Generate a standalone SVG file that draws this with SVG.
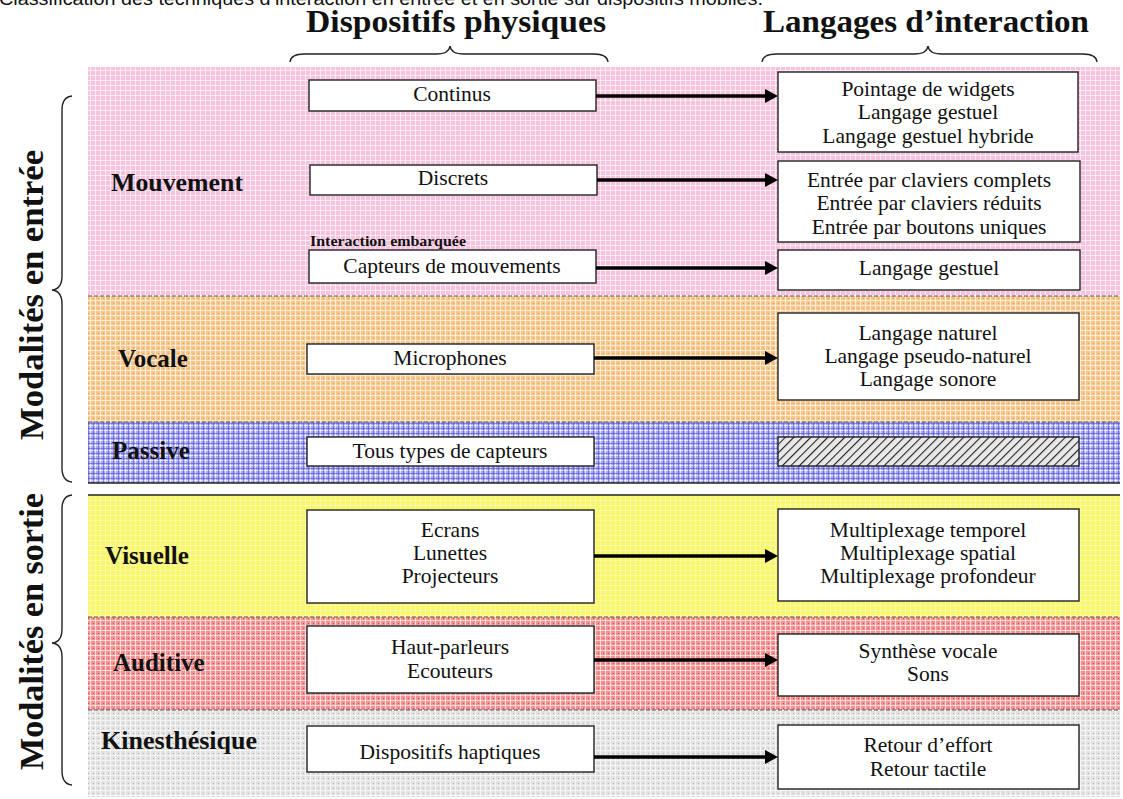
<svg xmlns="http://www.w3.org/2000/svg" width="1123" height="799" viewBox="0 0 1123 799">
<style>
.cap{font-family:"Liberation Sans",Arial,sans-serif;font-size:18px;fill:#111}
.hdr{font-family:"Liberation Serif","Times New Roman",serif;font-weight:bold;font-size:32px;fill:#111}
.side{font-family:"Liberation Serif","Times New Roman",serif;font-weight:bold;font-size:33px;fill:#111}
.row{font-family:"Liberation Serif","Times New Roman",serif;font-weight:bold;font-size:25px;fill:#111}
.sub{font-family:"Liberation Serif","Times New Roman",serif;font-weight:bold;font-size:15.5px;fill:#111}
.txt{font-family:"Liberation Serif","Times New Roman",serif;font-size:21.5px;fill:#111;text-anchor:middle}
.box{fill:#fff;stroke:#222;stroke-width:1.4}
.brace{fill:none;stroke:#222;stroke-width:1.4}
.dash{stroke:#555;stroke-width:1.2;stroke-dasharray:4 2}
.solid{stroke:#222;stroke-width:1.6}
.conn{stroke:#000;stroke-width:3.4;fill:none}
</style>
<defs>
<pattern id="pPink" width="5" height="5" patternUnits="userSpaceOnUse"><rect width="5" height="5" fill="#f6c2de"/><path d="M0,0.5H5M0.5,0V5" stroke="#fff" stroke-opacity="0.65" stroke-width="1"/></pattern>
<pattern id="pOrange" width="5" height="5" patternUnits="userSpaceOnUse"><rect width="5" height="5" fill="#f6c78c"/><path d="M0,0.5H5M0.5,0V5" stroke="#fff" stroke-opacity="0.6" stroke-width="1"/><rect x="3" y="3" width="1" height="1" fill="#e8a040"/></pattern>
<pattern id="pBlue" width="5" height="5" patternUnits="userSpaceOnUse"><rect width="5" height="5" fill="#a9a9ef"/><path d="M0,0.5H5M0.5,0V5" stroke="#fff" stroke-opacity="0.65" stroke-width="1"/><path d="M0,3.5H5M3.5,0V5" stroke="#4a4ad0" stroke-opacity="0.55" stroke-width="1"/></pattern>
<pattern id="pYellow" width="5" height="5" patternUnits="userSpaceOnUse"><rect width="5" height="5" fill="#f8f66a"/><path d="M0,0.5H5M0.5,0V5" stroke="#fff" stroke-opacity="0.35" stroke-width="1"/></pattern>
<pattern id="pRed" width="5" height="5" patternUnits="userSpaceOnUse"><rect width="5" height="5" fill="#f09494"/><path d="M0,0.5H5M0.5,0V5" stroke="#fff" stroke-opacity="0.6" stroke-width="1"/><rect x="3" y="3" width="1" height="1" fill="#e04848"/></pattern>
<pattern id="pGray" width="5" height="5" patternUnits="userSpaceOnUse"><rect width="5" height="5" fill="#e2e2e2"/><path d="M0,0.5H5M0.5,0V5" stroke="#fff" stroke-opacity="0.6" stroke-width="1"/><rect x="3" y="3" width="1" height="1" fill="#b8b8b8"/></pattern>
<pattern id="hatch" width="6" height="6" patternUnits="userSpaceOnUse" patternTransform="rotate(45)"><rect width="6" height="6" fill="#e8e8e8"/><path d="M0,0V6" stroke="#222" stroke-width="2.2"/></pattern>
<marker id="ah" markerWidth="13" markerHeight="14" refX="2" refY="7" orient="auto" markerUnits="userSpaceOnUse"><path d="M0,0 L13,7 L0,14 z" fill="#000"/></marker>
</defs>

<text class="cap" x="-1" y="5" textLength="764" lengthAdjust="spacingAndGlyphs">Classification des techniques d’interaction en entrée et en sortie sur dispositifs mobiles.</text>

<g id="bands">
<rect x="88" y="67" width="1032" height="229" fill="url(#pPink)"/>
<rect x="88" y="296" width="1032" height="126" fill="url(#pOrange)"/>
<rect x="88" y="422" width="1032" height="61" fill="url(#pBlue)"/>
<rect x="88" y="495" width="1032" height="122" fill="url(#pYellow)"/>
<rect x="88" y="617" width="1032" height="93" fill="url(#pRed)"/>
<rect x="88" y="710" width="1032" height="87" fill="url(#pGray)"/>
<line class="dash" x1="88" y1="296" x2="1120" y2="296"/>
<line class="dash" x1="88" y1="422" x2="1120" y2="422"/>
<line class="solid" x1="88" y1="483" x2="1120" y2="483"/>
<line class="solid" x1="88" y1="495" x2="1120" y2="495"/>
<line class="dash" x1="88" y1="617" x2="1120" y2="617"/>
<line class="dash" x1="88" y1="710" x2="1120" y2="710"/>
</g>

<g id="headers">
<text class="hdr" x="306" y="32" textLength="300" lengthAdjust="spacingAndGlyphs">Dispositifs physiques</text>
<text class="hdr" x="763" y="32" textLength="326" lengthAdjust="spacingAndGlyphs">Langages d’interaction</text>
<path class="brace" d="M290,62 Q291,54 304,54 L436,54 Q449,54 450,46 Q451,54 464,54 L594,54 Q607,54 608,62"/>
<path class="brace" d="M762,62 Q763,54 776,54 L914,54 Q927,54 928,46 Q929,54 942,54 L1083,54 Q1096,54 1097,62"/>
</g>

<g id="side-entree">
<path class="brace" d="M72,96 Q62,97 62,110 L62,276 Q62,289 52,290 Q62,291 62,304 L62,468 Q62,481 72,482"/>
<text class="side" transform="translate(43,440) rotate(-90)" textLength="290" lengthAdjust="spacingAndGlyphs">Modalités en entrée</text>
</g>
<g id="side-sortie">
<path class="brace" d="M72,495 Q62,496 62,509 L62,629 Q62,642 52,643 Q62,644 62,657 L62,771 Q62,784 72,785"/>
<text class="side" transform="translate(43,770) rotate(-90)" textLength="277" lengthAdjust="spacingAndGlyphs">Modalités en sortie</text>
</g>

<g id="row-labels">
<text class="row" x="111" y="191" textLength="132" lengthAdjust="spacingAndGlyphs">Mouvement</text>
<text class="row" x="118" y="367">Vocale</text>
<text class="row" x="112" y="459">Passive</text>
<text class="row" x="105" y="564">Visuelle</text>
<text class="row" x="113" y="671">Auditive</text>
<text class="row" x="101" y="749" textLength="156" lengthAdjust="spacingAndGlyphs">Kinesthésique</text>
<text class="sub" x="310" y="246" textLength="156" lengthAdjust="spacingAndGlyphs">Interaction embarquée</text>
</g>

<g id="n-continus"><rect class="box" x="309" y="80" width="287" height="31"/><text class="txt" x="452" y="101">Continus</text></g>
<g id="n-pointage"><rect class="box" x="778" y="72" width="300" height="80"/><text class="txt" x="928" y="96">Pointage de widgets</text><text class="txt" x="928" y="119">Langage gestuel</text><text class="txt" x="928" y="143">Langage gestuel hybride</text></g>
<g id="n-discrets"><rect class="box" x="310" y="165" width="287" height="30"/><text class="txt" x="453" y="185">Discrets</text></g>
<g id="n-entree"><rect class="box" x="778" y="161" width="302" height="81"/><text class="txt" x="929" y="187">Entrée par claviers complets</text><text class="txt" x="929" y="210">Entrée par claviers réduits</text><text class="txt" x="929" y="234">Entrée par boutons uniques</text></g>
<g id="n-capteurs"><rect class="box" x="309" y="250" width="287" height="33"/><text class="txt" x="452" y="273">Capteurs de mouvements</text></g>
<g id="n-gestuel"><rect class="box" x="778" y="250" width="302" height="40"/><text class="txt" x="929" y="275">Langage gestuel</text></g>
<g id="n-micro"><rect class="box" x="307" y="344" width="287" height="30"/><text class="txt" x="450" y="365">Microphones</text></g>
<g id="n-naturel"><rect class="box" x="778" y="313" width="301" height="87"/><text class="txt" x="928" y="340">Langage naturel</text><text class="txt" x="928" y="363">Langage pseudo-naturel</text><text class="txt" x="928" y="386">Langage sonore</text></g>
<g id="n-tous"><rect class="box" x="307" y="437" width="287" height="29"/><text class="txt" x="450" y="458">Tous types de capteurs</text></g>
<g id="n-hatch"><rect x="778" y="437" width="301" height="29" fill="url(#hatch)" stroke="#222" stroke-width="1.4"/></g>
<g id="n-ecrans"><rect class="box" x="307" y="510" width="287" height="93"/><text class="txt" x="450" y="537">Ecrans</text><text class="txt" x="450" y="560">Lunettes</text><text class="txt" x="450" y="583">Projecteurs</text></g>
<g id="n-multi"><rect class="box" x="778" y="509" width="301" height="92"/><text class="txt" x="928" y="537">Multiplexage temporel</text><text class="txt" x="928" y="560">Multiplexage spatial</text><text class="txt" x="928" y="583">Multiplexage profondeur</text></g>
<g id="n-haut"><rect class="box" x="307" y="626" width="287" height="67"/><text class="txt" x="450" y="654">Haut-parleurs</text><text class="txt" x="450" y="678">Ecouteurs</text></g>
<g id="n-synth"><rect class="box" x="778" y="634" width="301" height="62"/><text class="txt" x="928" y="658">Synthèse vocale</text><text class="txt" x="928" y="681">Sons</text></g>
<g id="n-haptiques"><rect class="box" x="307" y="726" width="287" height="46"/><text class="txt" x="450" y="759">Dispositifs haptiques</text></g>
<g id="n-retour"><rect class="box" x="778" y="725" width="301" height="64"/><text class="txt" x="928" y="752">Retour d’effort</text><text class="txt" x="928" y="776">Retour tactile</text></g>

<g id="connectors">
<line class="conn" x1="596" y1="96" x2="767" y2="96" marker-end="url(#ah)"/>
<line class="conn" x1="597" y1="180" x2="767" y2="180" marker-end="url(#ah)"/>
<line class="conn" x1="596" y1="268" x2="767" y2="268" marker-end="url(#ah)"/>
<line class="conn" x1="594" y1="358" x2="767" y2="358" marker-end="url(#ah)"/>
<line class="conn" x1="594" y1="556" x2="767" y2="556" marker-end="url(#ah)"/>
<line class="conn" x1="594" y1="660" x2="767" y2="660" marker-end="url(#ah)"/>
<line class="conn" x1="594" y1="757" x2="767" y2="757" marker-end="url(#ah)"/>
</g>
</svg>
